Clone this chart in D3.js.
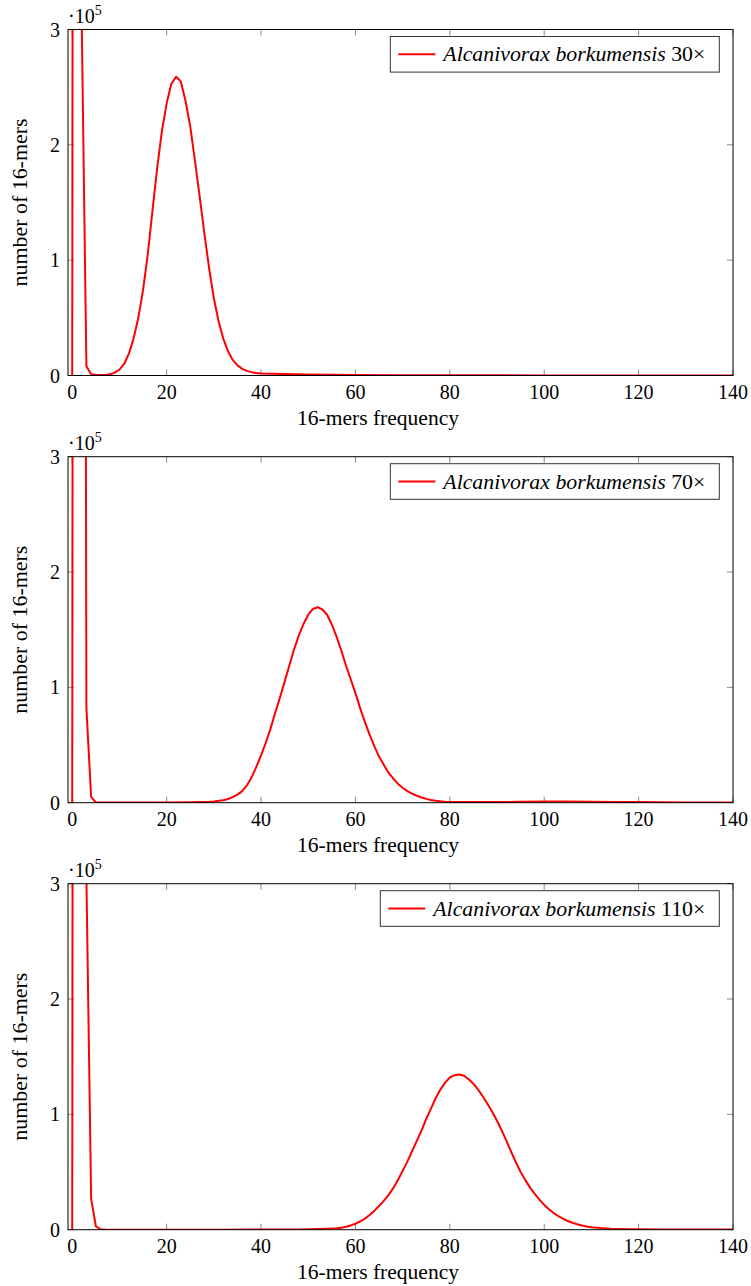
<!DOCTYPE html>
<html>
<head>
<meta charset="utf-8">
<script src="https://cdn.jsdelivr.net/npm/d3@7"></script>
<style>
  html, body { margin: 0; padding: 0; background: #fff; }
  svg { display: block; }
  text { font-family: "Liberation Serif", "Times New Roman", serif; fill: #000; }
</style>
</head>
<body>
<svg id="chart" width="751" height="1286"></svg>
<script>
// ---- data (counts in units of 10^5) ----
const xTicks = [0, 20, 40, 60, 80, 100, 120, 140];
const yTicks = [0, 1, 2, 3];
const xLabel = "16-mers frequency";
const yLabel = "number of 16-mers";
const species = "Alcanivorax borkumensis";
const coverages = ["30×", "70×", "110×"];

const cov30X = [0, 1, 2, 3, 4, 5, 6, 7, 8, 9, 10, 11, 12, 13, 14, 15, 16, 17, 18, 19, 20, 21, 22, 23, 24, 25, 26, 27, 28, 29, 30, 31, 32, 33, 34, 35, 36, 37, 38, 39, 40, 45, 50, 55, 60, 70, 80, 100, 120, 140];
const cov30Y = [0, 50, 3.1, 0.08, 0.01, 0.005, 0.004, 0.005, 0.01, 0.025, 0.05, 0.10, 0.19, 0.32, 0.50, 0.74, 1.05, 1.43, 1.80, 2.12, 2.36, 2.53, 2.59, 2.55, 2.38, 2.16, 1.86, 1.55, 1.23, 0.93, 0.67, 0.47, 0.32, 0.21, 0.135, 0.088, 0.058, 0.04, 0.029, 0.022, 0.018, 0.012, 0.009, 0.007, 0.005, 0.003, 0.002, 0.001, 0.001, 0.0005];

const cov70X = [0, 1, 2, 3, 4, 5, 10, 15, 20, 25, 27, 29, 30, 31, 32, 33, 34, 35, 36, 37, 38, 39, 40, 41, 42, 43, 44, 45, 46, 47, 48, 49, 50, 51, 52, 53, 54, 55, 56, 57, 58, 59, 60, 61, 62, 63, 64, 65, 66, 67, 68, 69, 70, 71, 72, 73, 74, 75, 76, 77, 78, 79, 80, 85, 90, 95, 100, 105, 110, 115, 120, 125, 130, 140];
const cov70Y = [0, 50, 22, 0.82, 0.05, 0.002, 0.001, 0.001, 0.001, 0.003, 0.005, 0.008, 0.011, 0.016, 0.022, 0.032, 0.048, 0.07, 0.10, 0.15, 0.22, 0.31, 0.41, 0.52, 0.64, 0.78, 0.91, 1.05, 1.19, 1.33, 1.45, 1.55, 1.63, 1.68, 1.695, 1.675, 1.63, 1.545, 1.44, 1.32, 1.19, 1.07, 0.95, 0.82, 0.70, 0.59, 0.49, 0.40, 0.33, 0.26, 0.21, 0.165, 0.13, 0.10, 0.078, 0.06, 0.045, 0.033, 0.024, 0.017, 0.012, 0.009, 0.007, 0.005, 0.006, 0.008, 0.01, 0.01, 0.009, 0.007, 0.005, 0.003, 0.002, 0.001];

const cov110X = [0, 1, 2, 3, 4, 5, 6, 7, 10, 20, 30, 40, 45, 48, 50, 52, 54, 56, 57, 58, 59, 60, 61, 62, 63, 64, 65, 66, 67, 68, 69, 70, 71, 72, 73, 74, 75, 76, 77, 78, 79, 80, 81, 82, 83, 84, 85, 86, 87, 88, 89, 90, 91, 92, 93, 94, 95, 96, 97, 98, 99, 100, 101, 102, 103, 104, 105, 106, 107, 108, 109, 110, 112, 114, 116, 118, 120, 125, 130, 140];
const cov110Y = [0, 50, 30, 3.05, 0.27, 0.03, 0.003, 0.001, 0.0005, 0.0005, 0.0005, 0.0008, 0.001, 0.002, 0.003, 0.005, 0.008, 0.012, 0.016, 0.025, 0.037, 0.052, 0.071, 0.096, 0.127, 0.163, 0.205, 0.25, 0.30, 0.36, 0.43, 0.51, 0.59, 0.68, 0.77, 0.86, 0.96, 1.05, 1.14, 1.215, 1.275, 1.32, 1.34, 1.345, 1.335, 1.305, 1.265, 1.215, 1.155, 1.09, 1.02, 0.945, 0.86, 0.77, 0.675, 0.585, 0.50, 0.43, 0.365, 0.31, 0.26, 0.215, 0.178, 0.145, 0.118, 0.095, 0.075, 0.06, 0.047, 0.036, 0.028, 0.022, 0.014, 0.009, 0.006, 0.004, 0.003, 0.002, 0.001, 0.001];

const panels = [
  { xs: cov30X, ys: cov30Y, cov: coverages[0] },
  { xs: cov70X, ys: cov70Y, cov: coverages[1] },
  { xs: cov110X, ys: cov110Y, cov: coverages[2] }
];

// ---- layout ----
const svg = d3.select("#chart");
const left = 68, right = 733;
const tops = [29.5, 456.7, 883.7];
const plotH = 346;
const fontSize = 20;

const x = d3.scaleLinear().domain([-0.9, 140]).range([left, right]);

panels.forEach((p, i) => {
  const top = tops[i], bottom = top + plotH;
  const y = d3.scaleLinear().domain([0, 3]).range([bottom, top]);
  const g = svg.append("g");

  const clipId = "clip" + i;
  svg.append("clipPath").attr("id", clipId)
    .append("rect").attr("x", left).attr("y", top).attr("width", right - left).attr("height", plotH);

  // ticks (inside, on all four sides)
  const tickLen = 6;
  const tg = g.append("g").attr("stroke", "#8a8a8a").attr("stroke-width", 1);
  xTicks.forEach(t => {
    tg.append("line").attr("x1", x(t)).attr("x2", x(t)).attr("y1", bottom).attr("y2", bottom - tickLen);
    tg.append("line").attr("x1", x(t)).attr("x2", x(t)).attr("y1", top).attr("y2", top + tickLen);
  });
  yTicks.forEach(t => {
    tg.append("line").attr("x1", left).attr("x2", left + tickLen).attr("y1", y(t)).attr("y2", y(t));
    tg.append("line").attr("x1", right).attr("x2", right - tickLen).attr("y1", y(t)).attr("y2", y(t));
  });

  // data line
  const line = d3.line().x((d, k) => x(p.xs[k])).y(d => y(d));
  g.append("path")
    .attr("clip-path", `url(#${clipId})`)
    .attr("d", line(p.ys))
    .attr("fill", "none")
    .attr("stroke", "#ff0000")
    .attr("stroke-width", 2)
    .attr("stroke-linejoin", "round");

  // frame
  g.append("rect").attr("x", left).attr("y", top).attr("width", right - left).attr("height", plotH)
    .attr("fill", "none").attr("stroke", "#000").attr("stroke-width", 1);

  // tick labels
  xTicks.forEach(t => {
    g.append("text").attr("x", x(t)).attr("y", bottom + 23)
      .attr("text-anchor", "middle").attr("font-size", fontSize).text(t);
  });
  yTicks.forEach(t => {
    g.append("text").attr("x", left - 8).attr("y", y(t)).attr("dy", "0.35em")
      .attr("text-anchor", "end").attr("font-size", fontSize).text(t);
  });

  // scale factor label ·10^5
  const sf = g.append("text").attr("x", left).attr("y", top - 7).attr("font-size", fontSize);
  sf.append("tspan").text("·10");
  sf.append("tspan").attr("font-size", 14).attr("dy", -8).text("5");

  // axis labels
  g.append("text").attr("x", 378).attr("y", bottom + 49)
    .attr("text-anchor", "middle").attr("font-size", fontSize)
    .attr("textLength", 162).attr("lengthAdjust", "spacingAndGlyphs").text(xLabel);
  g.append("text")
    .attr("transform", `translate(20,${(top + bottom) / 2}) rotate(-90)`)
    .attr("text-anchor", "middle").attr("dy", "0.35em").attr("font-size", fontSize)
    .attr("textLength", 168).attr("lengthAdjust", "spacingAndGlyphs").text(yLabel);

  // legend
  const boxRight = 719.3, boxTop = top + 7, boxH = 35.6;
  const lg = g.append("g");
  const lt = lg.append("text").attr("y", boxTop + boxH / 2).attr("dy", "0.35em").attr("font-size", fontSize);
  const ts1 = lt.append("tspan").attr("font-style", "italic").text(species);
  const ts2 = lt.append("tspan").text(" " + p.cov);
  const natural = lt.node().getComputedTextLength();
  const targetW = p.cov.length > 3 ? 272 : 262;
  lt.attr("textLength", targetW).attr("lengthAdjust", "spacingAndGlyphs");
  const boxLeft = boxRight - 14 - targetW - 53;
  lt.attr("x", boxLeft + 53);
  lg.insert("rect", "text").attr("x", boxLeft).attr("y", boxTop).attr("width", boxRight - boxLeft).attr("height", boxH)
    .attr("fill", "#fff").attr("stroke", "#333").attr("stroke-width", 1);
  lg.append("line").attr("x1", boxLeft + 8).attr("x2", boxLeft + 45)
    .attr("y1", boxTop + boxH / 2).attr("y2", boxTop + boxH / 2)
    .attr("stroke", "#ff0000").attr("stroke-width", 2);
});
</script>
</body>
</html>
